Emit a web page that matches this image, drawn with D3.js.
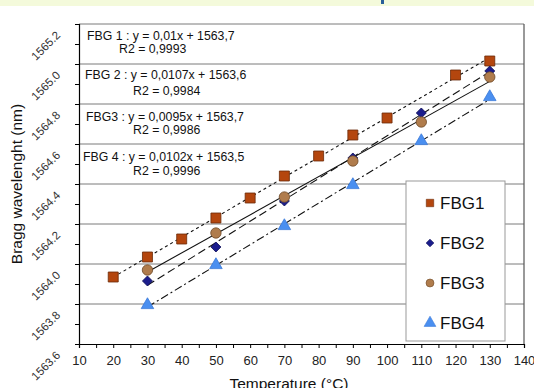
<!DOCTYPE html>
<html>
<head>
<meta charset="utf-8">
<script src="https://cdn.jsdelivr.net/npm/d3@7"></script>
<style>
  body { margin: 0; background: #fff; }
  svg { display: block; font-family: Arial, "Liberation Sans", sans-serif; }
</style>
</head>
<body>
<div id="chart"></div>
<script>
// temperature (°C) per series
const fbg1_temp = [20, 30, 40, 50, 60, 70, 80, 90, 100, 120, 130];
const fbg1_wl = [1563.935, 1564.035, 1564.125, 1564.23, 1564.33, 1564.44, 1564.54, 1564.645, 1564.73, 1564.945, 1565.015];

const fbg234_temp = [30, 50, 70, 90, 110, 130];
const fbg2_wl = [1563.915, 1564.085, 1564.315, 1564.53, 1564.755, 1564.965];
const fbg3_wl = [1563.97, 1564.155, 1564.335, 1564.515, 1564.71, 1564.935];
const fbg4_wl = [1563.795, 1563.995, 1564.19, 1564.395, 1564.615, 1564.835];

const series_names = ["FBG1", "FBG2", "FBG3", "FBG4"];
const equations = [
  ["FBG 1 : y = 0,01x + 1563,7", "R2 = 0,9993"],
  ["FBG 2 : y = 0,0107x + 1563,6", "R2 = 0,9984"],
  ["FBG3 : y = 0,0095x + 1563,7", "R2 = 0,9986"],
  ["FBG 4 : y = 0,0102x + 1563,5", "R2 = 0,9996"],
];
const y_ticks = [1563.6, 1563.8, 1564.0, 1564.2, 1564.4, 1564.6, 1564.8, 1565.0, 1565.2];

const width = 534, height = 388;
const margin = { left: 79, right: 10, top: 24, bottom: 44 };

const svg = d3.select("#chart").append("svg")
  .attr("width", width).attr("height", height);

// top banner strip
svg.append("rect").attr("x", 0).attr("y", 0).attr("width", width).attr("height", 6).attr("fill", "#f4fadb");
svg.append("rect").attr("x", 381).attr("y", 0).attr("width", 3).attr("height", 4).attr("fill", "#2a5f9a");

const x = d3.scaleLinear().domain([10, 140]).range([margin.left, width - margin.right]);
const y = d3.scaleLinear().domain([1563.6, 1565.2]).range([height - margin.bottom, margin.top]);

// gridlines
svg.append("g")
  .selectAll("line")
  .data(y_ticks.slice(1))
  .enter().append("line")
  .attr("x1", x(10)).attr("x2", x(140))
  .attr("y1", (d) => y(d)).attr("y2", (d) => y(d))
  .attr("stroke", "#7a7a7a").attr("stroke-width", 1);

// right border
svg.append("line")
  .attr("x1", x(140)).attr("x2", x(140))
  .attr("y1", y(1565.2)).attr("y2", y(1563.6))
  .attr("stroke", "#555").attr("stroke-width", 1.2);

// x axis
const xAxis = svg.append("g")
  .attr("transform", `translate(0,${y(1563.6)})`)
  .call(d3.axisBottom(x).tickValues(d3.range(10, 141, 5)).tickSize(4).tickFormat((d) => (d % 10 === 0 ? d : "")));
xAxis.select(".domain").attr("stroke", "#000").attr("stroke-width", 1.2);
xAxis.selectAll("text").attr("font-size", 13).attr("fill", "#222").attr("dy", "1.05em");

// y axis
const yAxis = svg.append("g")
  .attr("transform", `translate(${x(10)},0)`)
  .call(d3.axisLeft(y).tickValues(d3.range(0, 17).map((i) => 1563.6 + i * 0.1)).tickSize(4).tickFormat(""));
yAxis.select(".domain").attr("stroke", "#000").attr("stroke-width", 1.2);

yAxis.selectAll(".ylab")
  .data(y_ticks)
  .enter().append("text")
  .attr("class", "ylab")
  .attr("transform", (d) => `translate(-18,${y(d) + 12}) rotate(-45)`)
  .attr("text-anchor", "end")
  .attr("font-size", 11.5)
  .attr("fill", "#333")
  .text((d) => d.toFixed(1));

// axis titles
svg.append("text")
  .attr("transform", `translate(22,${y(1564.4)}) rotate(-90)`)
  .attr("text-anchor", "middle")
  .attr("font-size", 15.5)
  .attr("fill", "#111")
  .text("Bragg wavelenght (nm)");

svg.append("text")
  .attr("x", 289).attr("y", 389)
  .attr("text-anchor", "middle")
  .attr("font-size", 15.5)
  .attr("fill", "#111")
  .text("Temperature (°C)");

// equation texts
const eq_pos = [
  { x: 87, y1: 40, x2: 119, y2: 53 },
  { x: 85, y1: 79, x2: 133, y2: 95 },
  { x: 86, y1: 121, x2: 133, y2: 134 },
  { x: 83, y1: 161, x2: 133, y2: 175 },
];
equations.forEach((eq, i) => {
  const p = eq_pos[i];
  svg.append("text").attr("x", p.x).attr("y", p.y1).attr("font-size", 12.3).attr("fill", "#111").text(eq[0]);
  svg.append("text").attr("x", p.x2).attr("y", p.y2).attr("font-size", 12.3).attr("fill", "#111").text(eq[1]);
});

// series
const series = [
  { temp: fbg1_temp, wl: fbg1_wl, dash: "3,3", fill: "#b4460e", stroke: "#6b2a08" },
  { temp: fbg234_temp, wl: fbg2_wl, dash: "8,4", fill: "#1b1d8c", stroke: "#10105a" },
  { temp: fbg234_temp, wl: fbg3_wl, dash: null, fill: "#b07c4c", stroke: "#6e4a28" },
  { temp: fbg234_temp, wl: fbg4_wl, dash: "8,3,2,3", fill: "#4a8ff0", stroke: "#3a78d8" },
];

// marker shapes: [symbol, size on plot, size in legend, rotation]
const shapes = [
  [d3.symbolSquare, 100, 55, 0],
  [d3.symbolSquare, 50, 30, 45],
  [d3.symbolCircle, 85, 50, 0],
  [d3.symbolTriangle, 68, 60, 0],
];

function fit(xs, ys) {
  const mx = d3.mean(xs), my = d3.mean(ys);
  const b = d3.sum(xs, (v, i) => (v - mx) * (ys[i] - my)) / d3.sum(xs, (v) => (v - mx) * (v - mx));
  return { a: my - b * mx, b: b };
}

// trend lines
series.forEach((s) => {
  const f = fit(s.temp, s.wl);
  const x0 = d3.min(s.temp), x1 = d3.max(s.temp);
  svg.append("line")
    .attr("x1", x(x0)).attr("y1", y(f.a + f.b * x0))
    .attr("x2", x(x1)).attr("y2", y(f.a + f.b * x1))
    .attr("stroke", "#111").attr("stroke-width", 1.1)
    .attr("stroke-dasharray", s.dash);
});

// markers
series.forEach((s, i) => {
  const sh = shapes[i];
  svg.append("g")
    .selectAll("path")
    .data(s.temp.map((t, j) => [t, s.wl[j]]))
    .enter().append("path")
    .attr("d", d3.symbol().type(sh[0]).size(sh[1]))
    .attr("transform", (d) => `translate(${x(d[0])},${y(d[1])}) rotate(${sh[3]})`)
    .attr("fill", s.fill)
    .attr("stroke", s.stroke)
    .attr("stroke-width", 0.8);
});

// legend
const legend = svg.append("g");
legend.append("rect")
  .attr("x", 406).attr("y", 181).attr("width", 99).attr("height", 160)
  .attr("fill", "#fff").attr("stroke", "#999").attr("stroke-width", 1);
series_names.forEach((name, i) => {
  const ly = 203 + i * 40;
  const s = series[i];
  const sh = shapes[i];
  legend.append("path")
    .attr("d", d3.symbol().type(sh[0]).size(sh[2]))
    .attr("transform", `translate(430,${ly}) rotate(${sh[3]})`)
    .attr("fill", s.fill).attr("stroke", s.stroke).attr("stroke-width", 0.6);
  legend.append("text")
    .attr("x", 440).attr("y", ly).attr("dy", "0.36em")
    .attr("font-size", 17).attr("fill", "#111")
    .text(name);
});
</script>
</body>
</html>
